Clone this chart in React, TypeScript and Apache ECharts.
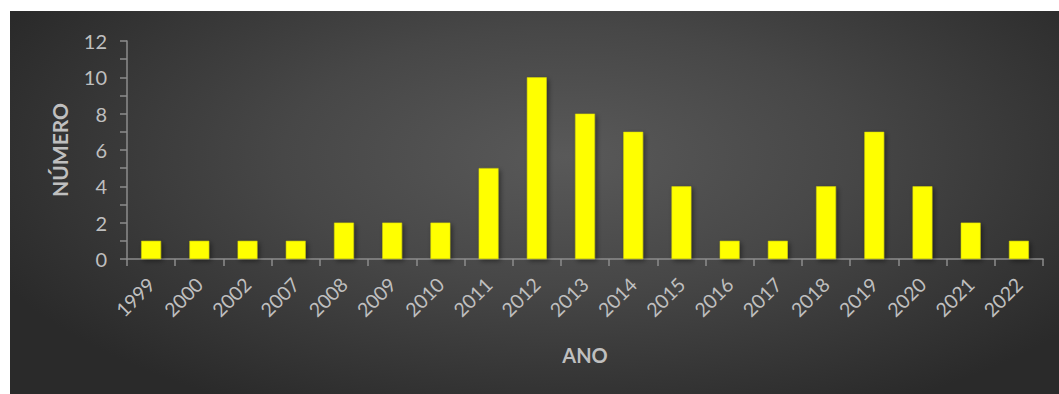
import React, { useEffect, useRef } from "react";
import * as echarts from "echarts";

const years = ["1999", "2000", "2002", "2007", "2008", "2009", "2010", "2011", "2012", "2013", "2014", "2015", "2016", "2017", "2018", "2019", "2020", "2021", "2022"];
const counts = [1, 1, 1, 1, 2, 2, 2, 5, 10, 8, 7, 4, 1, 1, 4, 7, 4, 2, 1];
const yTicks = [0, 2, 4, 6, 8, 10, 12];

const FONT = "Lato, 'Noto Sans', sans-serif";
const TXT = "#bfbfbf";
const AXIS = "#8c8c8c";

export default function App() {
  const ref = useRef<HTMLDivElement>(null);
  useEffect(() => {
    if (!ref.current) return;
    const chart = echarts.init(ref.current, undefined, { renderer: "svg" });
    chart.setOption({
      animation: false,
      backgroundColor: "transparent",
      grid: { left: 117, top: 30, right: 16, bottom: 135 },
      xAxis: {
        type: "category",
        data: years,
        name: "ANO",
        nameLocation: "middle",
        nameGap: 86,
        nameTextStyle: { color: TXT, fontFamily: FONT, fontWeight: "bold", fontSize: 20 },
        axisLine: { lineStyle: { color: AXIS, width: 1.5 } },
        axisTick: { show: true, length: 7, lineStyle: { color: AXIS, width: 1.5 } },
        axisLabel: { rotate: 45, color: TXT, fontFamily: FONT, fontSize: 19.5, margin: 22, interval: 0 },
      },
      yAxis: {
        type: "value",
        min: 0,
        max: 12,
        interval: 1,
        name: "NÚMERO",
        nameLocation: "middle",
        nameGap: 57,
        nameRotate: 90,
        nameTextStyle: { color: TXT, fontFamily: FONT, fontWeight: "bold", fontSize: 21 },
        axisLine: { show: true, lineStyle: { color: AXIS, width: 1.5 } },
        axisTick: { show: true, length: 7, lineStyle: { color: AXIS, width: 1.5 } },
        splitLine: { show: false },
        axisLabel: {
          color: TXT,
          fontFamily: FONT,
          fontSize: 20,
          margin: 20,
          formatter: (v: number) => (yTicks.includes(v) ? String(v) : ""),
        },
      },
      series: [
        {
          type: "bar",
          data: counts,
          barWidth: "41%",
          itemStyle: {
            color: "#ffff00",
            borderColor: "#d8d800",
            borderWidth: 0.5,
            shadowColor: "rgba(0,0,0,0.45)",
            shadowBlur: 5,
            shadowOffsetX: 2,
            shadowOffsetY: 2,
          },
        },
      ],
    });
    return () => chart.dispose();
  }, []);
  return (
    <div style={{ position: "fixed", left: 0, top: 0, width: 1059, height: 394, background: "#ffffff" }}>
      <div
        ref={ref}
        style={{
          position: "absolute",
          left: 10,
          top: 11,
          width: 1049,
          height: 383,
          background: "radial-gradient(ellipse 60% 75% at 53% 38%, #595959 0%, #474747 45%, #2a2a2a 100%)",
        }}
      />
    </div>
  );
}
